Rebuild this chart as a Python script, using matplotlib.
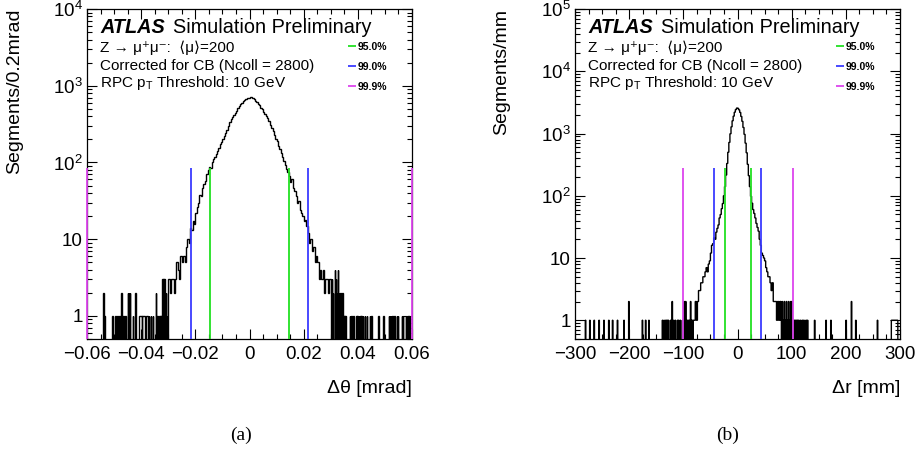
import numpy as np
import matplotlib
matplotlib.use("Agg")
import matplotlib.pyplot as plt
import matplotlib.ticker as mticker

plt.rcParams["font.family"] = ["Liberation Sans", "DejaVu Sans"]
plt.rcParams["mathtext.fontset"] = "custom"
plt.rcParams["mathtext.rm"] = "Liberation Sans"
plt.rcParams["mathtext.it"] = "Liberation Sans:italic"
plt.rcParams["mathtext.bf"] = "Liberation Sans:bold"

# ---- panel (a): delta theta [mrad] ----
# core, 0.0005 wide bins from -0.03 to 0.03
theta_core = [
    3, 2, 3, 3, 2, 3, 5, 4, 3, 6, 5, 6, 5, 8, 10, 9, 14, 13, 17, 16,
    22, 26, 30, 38, 36, 47, 52, 58, 70, 80, 86, 84, 100, 110, 118, 130, 143, 155, 172, 185,
    200, 222, 245, 268, 300, 340, 365, 390, 420, 445, 470, 510, 540, 570, 600, 625, 650, 680, 690, 700,
    715, 705, 690, 665, 640, 610, 585, 555, 520, 495, 455, 430, 400, 375, 345, 310, 280, 255, 230, 205,
    188, 165, 150, 132, 118, 105, 92, 82, 75, 66, 56, 60, 46, 42, 36, 30, 31, 24, 22, 20,
    17, 18, 15, 12, 9, 10, 7, 8, 5, 6, 5, 3, 4, 3, 4, 2, 3, 3, 2, 3,
]
# sparse tails, 0.0002 wide bins (|x| > 0.03)
theta_tail_x = [
    -0.0539, -0.0535, -0.0505, -0.0495, -0.0487, -0.0481, -0.0473, -0.0465, -0.0457,
    -0.0449, -0.0445, -0.0441, -0.0431, -0.0421,
    -0.0407, -0.0405, -0.0403, -0.0401, -0.0399, -0.0395, -0.0393, -0.0391, -0.0389,
    -0.0387, -0.0383, -0.0381, -0.0379, -0.0377, -0.0375, -0.0371,
    -0.0363, -0.0357, -0.0345, -0.0339, -0.0333, -0.0329, -0.0325, -0.0321, -0.0317,
    -0.0313, -0.0309, -0.0305, -0.0301,
    0.0301, 0.0305, 0.0309, 0.0315, 0.0319, 0.0323, 0.0327, 0.0331, 0.0335, 0.0339,
    0.0343, 0.0347, 0.0351, 0.0355, 0.0371, 0.0377, 0.0383, 0.0395, 0.0399, 0.0405,
    0.0409, 0.0413, 0.0419, 0.0427, 0.0433, 0.0445, 0.0451, 0.0477, 0.0495, 0.0515,
    0.0519, 0.0523, 0.0527, 0.0535, 0.0545, 0.0549, 0.0563, 0.0567, 0.0577, 0.0581,
    0.0587, 0.0593,
]
theta_tail_n = [
    2, 1, 1, 1, 1, 1, 2, 1, 1,
    2, 2, 2, 1, 2,
    1, 1, 1, 1, 1, 1, 1, 1, 1,
    1, 1, 1, 1, 1, 1, 1,
    1, 1, 2, 1, 1, 1, 1, 3, 3,
    3, 2, 1, 2,
    2, 3, 2, 4, 3, 2, 4, 2, 2, 1,
    2, 1, 1, 1, 1, 1, 1, 1, 1, 1,
    1, 1, 1, 1, 1, 1, 1, 1, 1, 1,
    1, 1, 1, 1, 1, 1, 1, 1, 1, 1,
    1, 1,
]
theta_cuts = {"95.0%": [-0.01475, 0.01475], "99.0%": [-0.0217, 0.0217], "99.9%": [-0.06, 0.06]}
theta_line_top = 85

# ---- panel (b): delta r [mm] ----
# core, 2 mm bins from -80 to 80
r_core = [
    1, 2, 1, 2, 3, 3, 4, 4, 5, 5, 6, 7, 6, 8, 9, 12, 16, 17, 21, 20,
    26, 30, 34, 44, 50, 62, 75, 100, 140, 215, 330, 500, 720, 990, 1280, 1600, 1900, 2200, 2420, 2560,
    2540, 2400, 2180, 1880, 1570, 1250, 970, 700, 490, 320, 210, 140, 98, 76, 60, 52, 44, 36, 31, 27,
    20, 16, 12, 11, 10, 9, 7, 6, 5, 5, 4, 3, 4, 2, 2, 2, 1, 2, 1, 2,
]
# sparse tails, 1 mm bins (|x| > 80)
r_tail_x = [
    -280.5, -272.5, -264.5, -255.5, -246.5, -237.5, -230.5, -221.5, -209.5, -200.5,
    -175.5, -169.5, -163.5, -138.5, -135.5, -132.5, -130.5, -129.5, -127.5, -123.5,
    -120.5, -117.5, -114.5, -110.5, -108.5, -105.5, -101.5, -98.5, -96.5, -95.5,
    -93.5, -91.5, -89.5, -87.5, -86.5, -84.5, -83.5, -81.5, -80.5,
    80.5, 82.5, 84.5, 86.5, 88.5, 90.5, 92.5, 94.5, 96.5, 98.5, 100.5,
    103.5, 105.5, 106.5, 108.5, 110.5, 111.5, 113.5, 116.5, 119.5, 121.5, 124.5, 127.5, 129.5,
    142.5, 163.5, 172.5, 200.5, 210.5, 218.5, 258.5,
    284.5, 285.5, 286.5, 287.5, 288.5, 289.5, 290.5, 291.5, 292.5, 293.5, 294.5, 295.5,
]
r_tail_n = [
    1, 1, 1, 1, 1, 1, 1, 1, 1, 2,
    1, 1, 1, 1, 1, 1, 1, 1, 1, 1,
    2, 1, 1, 1, 1, 1, 1, 2, 1, 2,
    1, 1, 1, 1, 2, 1, 1, 1, 1,
    1, 2, 1, 2, 1, 2, 1, 2, 1, 2, 2,
    1, 1, 1, 1, 1, 1, 1, 1, 1, 1, 1, 1, 1,
    1, 1, 1, 1, 2, 1, 1,
    1, 1, 1, 1, 1, 1, 1, 1, 1, 1, 1, 1,
]
r_cuts = {"95.0%": [-23.5, 24.0], "99.0%": [-42.5, 43.0], "99.9%": [-101.0, 102.0]}
r_line_top = 280

CUT_COLORS = {"95.0%": "#22e022", "99.0%": "#3a3aff", "99.9%": "#dd44ee"}


def build_hist(core, tail_x, tail_n, lo, hi, core_lim, fine_w):
    nf = int(round((hi - core_lim) / fine_w)) + 1
    left = np.linspace(lo, -core_lim, nf)
    right = np.linspace(core_lim, hi, nf)
    mid = np.linspace(-core_lim, core_lim, len(core) + 1)
    tl, _ = np.histogram(tail_x, bins=left, weights=tail_n)
    tr, _ = np.histogram(tail_x, bins=right, weights=tail_n)
    edges = np.concatenate([left, mid[1:], right[1:]])
    counts = np.concatenate([tl, np.asarray(core, float), tr])
    counts = np.where(counts > 0, counts, 1e-3)  # empty bins drop to the floor
    return counts, edges


def log_fmt(v, _):
    e = int(round(np.log10(v)))
    if e == 0:
        return "1"
    if e == 1:
        return "10"
    return r"$\mathregular{10^{%d}}$" % e


def lin_fmt(v, _):
    if abs(v) < 1e-12:
        return "0"
    return f"{v:g}".replace("-", "\u2212")


def draw_panel(ax, counts, edges, cuts, line_top, xlim, ylim, xmaj, xmin_, xlabel, ylabel):
    ax.stairs(counts, edges, baseline=None, color="black", linewidth=1.0, zorder=3)
    for lab, xs in cuts.items():
        ax.vlines(xs, ylim[0], line_top, colors=CUT_COLORS[lab], linewidth=1.3,
                  zorder=4, clip_on=False, label=lab)
    ax.set_yscale("log")
    ax.set_xlim(*xlim)
    ax.set_ylim(*ylim)
    ax.xaxis.set_major_locator(mticker.MultipleLocator(xmaj))
    ax.xaxis.set_minor_locator(mticker.MultipleLocator(xmin_))
    ax.xaxis.set_major_formatter(mticker.FuncFormatter(lin_fmt))
    ax.yaxis.set_major_locator(mticker.LogLocator(base=10, numticks=10))
    ax.yaxis.set_minor_locator(mticker.LogLocator(base=10, subs=np.arange(2, 10), numticks=20))
    ax.yaxis.set_major_formatter(mticker.FuncFormatter(log_fmt))
    ax.yaxis.set_minor_formatter(mticker.NullFormatter())
    ax.tick_params(which="both", direction="in", top=True, right=True, width=0.8, labelsize=13.5)
    ax.tick_params(which="major", length=7)
    ax.tick_params(which="minor", length=3.5)
    ax.tick_params(axis="x", pad=5)
    ax.tick_params(axis="y", pad=3)
    for s in ax.spines.values():
        s.set_linewidth(0.9)

    ax.set_xlabel(xlabel, fontsize=14, loc="right")
    ax.xaxis.set_label_coords(1.0, -0.125)
    ax.set_ylabel(ylabel, fontsize=14, loc="top")
    ax.yaxis.set_label_coords(-0.197, 1.0)

    ax.text(0.04, 0.927, "ATLAS", transform=ax.transAxes, fontsize=14.3,
            fontweight="bold", style="italic", va="baseline")
    ax.text(0.265, 0.927, "Simulation Preliminary", transform=ax.transAxes,
            fontsize=14.3, va="baseline")
    ax.text(0.04, 0.871, "Z \u2192 \u03bc\u207a\u03bc\u207b:  \u27e8\u03bc\u27e9=200",
            transform=ax.transAxes, fontsize=11, va="baseline")
    ax.text(0.04, 0.815, "Corrected for CB (Ncoll = 2800)", transform=ax.transAxes,
            fontsize=11, va="baseline")
    ax.text(0.04, 0.763, r"RPC p$_{\mathrm{T}}$ Threshold: 10 GeV", transform=ax.transAxes,
            fontsize=11, va="baseline")

    ax.legend(loc="upper left", bbox_to_anchor=(0.802, 0.9), frameon=False,
              prop={"size": 7.5, "weight": "bold"}, handlelength=0.8, handletextpad=0.2,
              labelspacing=0.95, borderpad=0, borderaxespad=0)


fig = plt.figure(figsize=(9.21, 4.53), dpi=100, facecolor="white")
ax_a = fig.add_axes([87 / 921, 1 - 339 / 453, 325 / 921, 330 / 453])
ax_b = fig.add_axes([575 / 921, 1 - 339 / 453, 325 / 921, 330 / 453])

c_a, e_a = build_hist(theta_core, theta_tail_x, theta_tail_n, -0.06, 0.06, 0.03, 0.0002)
draw_panel(ax_a, c_a, e_a, theta_cuts, theta_line_top, (-0.06, 0.06), (0.5, 1e4),
           0.02, 0.005, "\u0394\u03b8 [mrad]", "Segments/0.2mrad")

c_b, e_b = build_hist(r_core, r_tail_x, r_tail_n, -300, 300, 80, 1.0)
draw_panel(ax_b, c_b, e_b, r_cuts, r_line_top, (-300, 300), (0.5, 1e5),
           100, 25, "\u0394r [mm]", "Segments/mm")
ax_b.yaxis.set_label_coords(-0.2, 1.0)

fig.text(241 / 921, 1 - 435 / 453, "(a)", family="Liberation Serif", fontsize=14,
         ha="center", va="center")
fig.text(728 / 921, 1 - 435 / 453, "(b)", family="Liberation Serif", fontsize=14,
         ha="center", va="center")

fig.savefig("out.png", dpi=100, facecolor="white")
